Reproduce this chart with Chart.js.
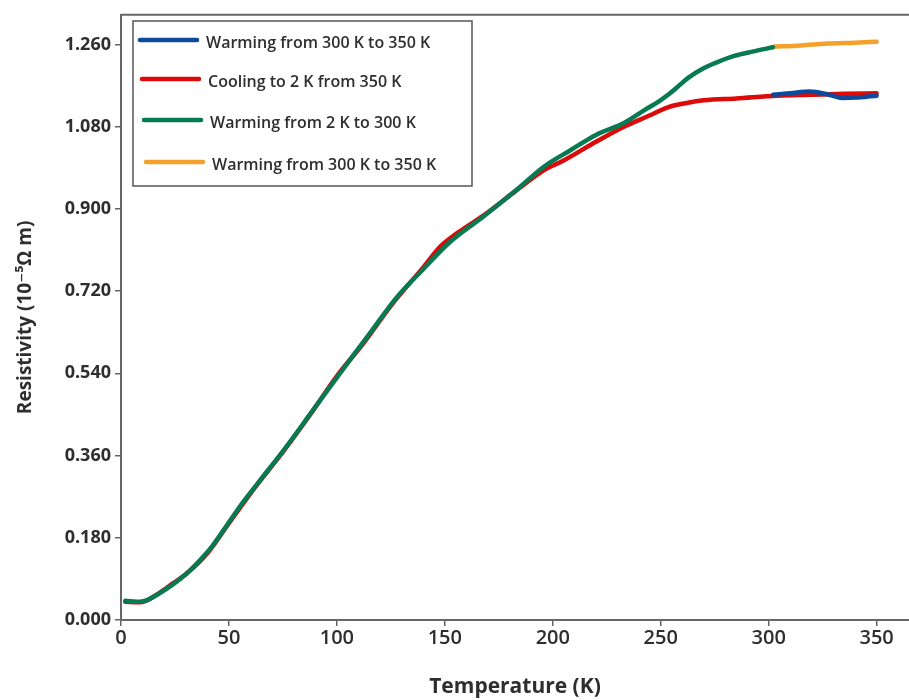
<!DOCTYPE html>
<html>
<head>
<meta charset="utf-8">
<script src="https://cdn.jsdelivr.net/npm/chart.js@4.4.1/dist/chart.umd.min.js"></script>
<style>
  html, body { margin: 0; padding: 0; background: #fff; }
  #wrap { width: 909px; height: 700px; }
</style>
</head>
<body>
<div id="wrap"><canvas id="rhoChart" width="909" height="700"></canvas></div>
<script>
// ==========================
// DATA
// ==========================
const seriesLabels = [
  "Warming from 300 K to 350 K",
  "Cooling to 2 K from 350 K",
  "Warming from 2 K to 300 K",
  "Warming from 300 K to 350 K",
];
const seriesColors = ["#0d4a9b", "#dd0a0a", "#077a52", "#f4a12c"];

// blue: first warming 300 -> 350 K
const blueT = [302, 310, 319, 328, 334, 341, 346, 350];
const blueR = [1.150, 1.153, 1.157, 1.150, 1.143, 1.144, 1.146, 1.148];

// red: cooling 350 -> 2 K
const redT = [2, 9, 18, 24, 30, 40, 50, 62, 75, 88, 100, 112, 125, 140, 148, 156, 168, 183, 196, 205, 220, 233, 245, 253, 262, 270, 285, 304, 320, 335, 350];
const redR = [0.040, 0.039, 0.060, 0.080, 0.100, 0.146, 0.212, 0.290, 0.368, 0.452, 0.534, 0.604, 0.688, 0.772, 0.818, 0.848, 0.886, 0.940, 0.985, 1.006, 1.047, 1.080, 1.105, 1.122, 1.132, 1.138, 1.142, 1.148, 1.150, 1.152, 1.153];

// green: warming 2 -> 300 K
const greenT = [2, 9, 18, 30, 36, 42, 48, 55, 64, 77, 89, 98, 108, 115, 128, 140, 152, 168, 183, 196, 208, 220, 233, 243, 249, 254, 258, 263, 269, 276, 284, 293, 302];
const greenR = [0.042, 0.040, 0.059, 0.100, 0.128, 0.160, 0.200, 0.248, 0.303, 0.382, 0.460, 0.518, 0.582, 0.626, 0.708, 0.768, 0.826, 0.884, 0.941, 0.993, 1.028, 1.062, 1.088, 1.118, 1.135, 1.152, 1.168, 1.188, 1.206, 1.221, 1.235, 1.245, 1.254];

// orange: second warming 300 -> 350 K
const orangeT = [302, 315, 327, 340, 350];
const orangeR = [1.255, 1.258, 1.262, 1.264, 1.266];

const xTicks = [0, 50, 100, 150, 200, 250, 300, 350];
const yTicks = [0, 0.18, 0.36, 0.54, 0.72, 0.9, 1.08, 1.26];

function toPoints(ts, rs) {
  return ts.map((t, i) => ({ x: t, y: rs[i] }));
}

const FONT = "'Open Sans', 'DejaVu Sans', sans-serif";
const TEXT = "#2e2e2e";
const AXIS = "#666666";

// ==========================
// PLUGINS: frame top line + legend box
// ==========================
const framePlugin = {
  id: "frame",
  afterDraw(chart) {
    const c = chart.ctx;
    const a = chart.chartArea;
    c.save();
    c.strokeStyle = AXIS;
    c.lineWidth = 2;
    c.beginPath();
    c.moveTo(a.left, a.top);
    c.lineTo(a.right, a.top);
    c.stroke();
    c.restore();
  },
};

const legendBoxPlugin = {
  id: "legendBox",
  afterDraw(chart) {
    const c = chart.ctx;
    c.save();
    c.fillStyle = "#fff";
    c.fillRect(133, 21, 339, 165);
    c.strokeStyle = "#555";
    c.lineWidth = 1.5;
    c.strokeRect(133, 21, 339, 165);
    const rowsY = [40, 79, 120, 162];
    c.font = "600 16px " + FONT;
    c.textBaseline = "middle";
    seriesLabels.forEach((lab, i) => {
      const y = rowsY[i];
      const shift = i * 2;
      c.strokeStyle = seriesColors[i];
      c.lineWidth = 4.5;
      c.lineCap = "round";
      c.beginPath();
      c.moveTo(140 + shift, y);
      c.lineTo(197 + shift, y);
      c.stroke();
      c.fillStyle = TEXT;
      c.fillText(lab, 206 + shift, y + 3);
    });
    c.restore();
  },
};

// ==========================
// CHART
// ==========================
const lineStyle = {
  borderWidth: 4.5,
  pointRadius: 0,
  tension: 0.4,
  cubicInterpolationMode: "monotone",
  borderCapStyle: "round",
  borderJoinStyle: "round",
  fill: false,
};

new Chart(document.getElementById("rhoChart"), {
  type: "line",
  data: {
    datasets: [
      { ...lineStyle, label: seriesLabels[0], data: toPoints(blueT, blueR), borderColor: seriesColors[0], order: 0 },
      { ...lineStyle, label: seriesLabels[1], data: toPoints(redT, redR), borderColor: seriesColors[1], order: 2 },
      { ...lineStyle, label: seriesLabels[2], data: toPoints(greenT, greenR), borderColor: seriesColors[2], order: 1 },
      { ...lineStyle, label: seriesLabels[3], data: toPoints(orangeT, orangeR), borderColor: seriesColors[3], order: 3 },
    ],
  },
  options: {
    responsive: false,
    animation: false,
    layout: { padding: { top: 10, right: 0, left: 0, bottom: 0 } },
    plugins: {
      legend: { display: false },
      tooltip: { enabled: false },
    },
    scales: {
      x: {
        type: "linear",
        min: 0,
        max: 365,
        afterBuildTicks: (s) => { s.ticks = xTicks.map((v) => ({ value: v })); },
        afterFit: (s) => { s.height = 80; },
        grid: { drawOnChartArea: false, tickLength: 6, color: AXIS, lineWidth: 1.5 },
        border: { color: AXIS, width: 2 },
        ticks: {
          color: TEXT,
          padding: 0,
          maxRotation: 0,
          autoSkip: false,
          font: { family: FONT, size: 20, weight: "600" },
        },
        title: {
          display: true,
          text: "Temperature (K)",
          color: TEXT,
          padding: { top: 18, bottom: 0 },
          font: { family: FONT, size: 21, weight: "bold" },
        },
      },
      y: {
        type: "linear",
        min: 0,
        max: 1.325,
        afterBuildTicks: (s) => { s.ticks = yTicks.map((v) => ({ value: v })); },
        afterFit: (s) => { s.width = 121; },
        grid: { drawOnChartArea: false, tickLength: 6, color: AXIS, lineWidth: 1.5 },
        border: { color: AXIS, width: 2 },
        ticks: {
          color: TEXT,
          padding: 4,
          autoSkip: false,
          font: { family: FONT, size: 18, weight: "bold" },
          callback: (v) => Number(v).toFixed(3),
        },
        title: {
          display: true,
          text: "Resistivity (10\u207B\u2075\u03A9 m)",
          color: TEXT,
          padding: { top: 14, bottom: 0 },
          font: { family: FONT, size: 19, weight: "bold" },
        },
      },
    },
  },
  plugins: [framePlugin, legendBoxPlugin],
});
</script>
</body>
</html>
